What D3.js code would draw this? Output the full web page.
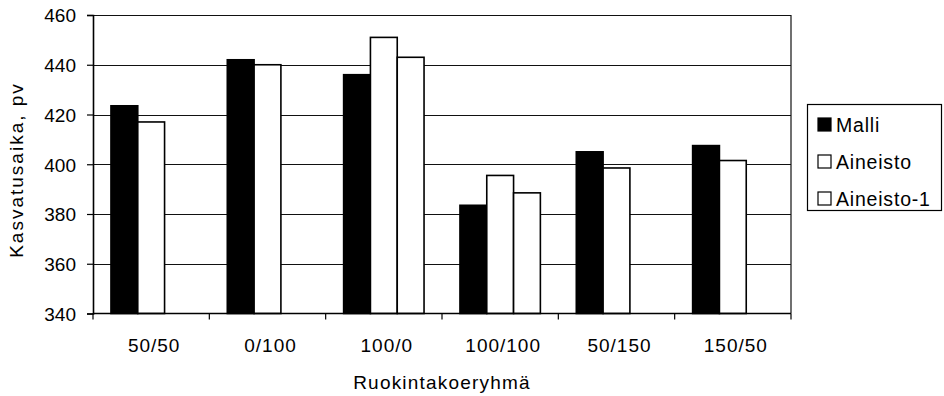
<!DOCTYPE html>
<html>
<head>
<meta charset="utf-8">
<script src="https://cdn.jsdelivr.net/npm/d3@7"></script>
<style>
  body { margin: 0; background: #fff; }
  svg { display: block; }
  text { font-family: "Liberation Sans", Arial, sans-serif; fill: #000; }
</style>
</head>
<body>
<div id="chart"></div>
<script>

// data
var categories = ['50/50', '0/100', '100/0', '100/100', '50/150', '150/50'];
var seriesNames = ['Malli', 'Aineisto', 'Aineisto-1'];
var malli = [423.5, 442, 436, 383.5, 405, 407.5];
var aineisto = [417, 440, 451, 395.5, 398.5, 401.5];
var aineisto1 = [null, null, 443, 388.5, null, null];
var yTicks = [340, 360, 380, 400, 420, 440, 460];

var seriesValues = [malli, aineisto, aineisto1];
var seriesFill = ['#000', '#fff', '#fff'];

var width = 944;
var height = 396;
var plotLeft = 93;
var plotRight = 791;
var plotTop = 15;
var plotBottom = 313.5;

var svg = d3.select('#chart')
		.append('svg')
		.attr('width', width)
		.attr('height', height);

var x = d3.scaleBand()
		.domain(categories)
		.range([plotLeft, plotRight])
		.padding(0);

var xs = d3.scaleBand()
		.domain(seriesNames)
		.range([0, x.bandwidth()])
		.paddingInner(0)
		.paddingOuter(0.67);

var y = d3.scaleLinear()
		.domain([340, 460])
		.range([plotBottom, plotTop]);

// grid lines
svg.append('g')
	.selectAll('line')
	.data(yTicks.slice(1))
	.enter()
	.append('line')
	.attr('x1', plotLeft)
	.attr('x2', plotRight)
	.attr('y1', function (d) { return Math.round(y(d)) + 0.5; })
	.attr('y2', function (d) { return Math.round(y(d)) + 0.5; })
	.attr('stroke', '#111')
	.attr('stroke-width', 1.2);

// right border
svg.append('line')
	.attr('x1', plotRight)
	.attr('x2', plotRight)
	.attr('y1', y(460))
	.attr('y2', y(340))
	.attr('stroke', '#111')
	.attr('stroke-width', 1.2);

// bars
var rows = [];
categories.forEach(function (c, i) {
	seriesNames.forEach(function (s, j) {
		if (seriesValues[j][i] != null) {
			rows.push({ cat: c, name: s, value: seriesValues[j][i], fill: seriesFill[j] });
		}
	});
});

svg.append('g')
	.selectAll('rect')
	.data(rows)
	.enter()
	.append('rect')
	.attr('x', function (d) { return x(d.cat) + xs(d.name); })
	.attr('y', function (d) { return y(d.value); })
	.attr('width', xs.bandwidth())
	.attr('height', function (d) { return y(340) - y(d.value); })
	.attr('fill', function (d) { return d.fill; })
	.attr('stroke', '#000')
	.attr('stroke-width', 1.6);

// y axis
var yAxis = svg.append('g')
		.attr('transform', 'translate(' + plotLeft + ',0)')
		.call(d3.axisLeft(y).tickValues(yTicks).tickSize(6).tickPadding(11).tickFormat(d3.format('d')));

yAxis.select('.domain').attr('stroke', '#000').attr('stroke-width', 1.6);
yAxis.selectAll('.tick line').attr('stroke', '#000').attr('stroke-width', 1.2);
yAxis.selectAll('.tick text')
	.attr('font-size', '19px')
	.attr('font-family', '"Liberation Sans", Arial, sans-serif')
	.attr('dy', '0.36em');

// x axis line and ticks at group borders
svg.append('line')
	.attr('x1', plotLeft)
	.attr('x2', plotRight)
	.attr('y1', plotBottom)
	.attr('y2', plotBottom)
	.attr('stroke', '#000')
	.attr('stroke-width', 1.6);

var borders = categories.map(function (c) { return x(c); }).concat([plotRight]);

svg.append('g')
	.selectAll('line')
	.data(borders)
	.enter()
	.append('line')
	.attr('x1', function (d) { return d; })
	.attr('x2', function (d) { return d; })
	.attr('y1', plotBottom)
	.attr('y2', plotBottom + 6)
	.attr('stroke', '#000')
	.attr('stroke-width', 1.2);

svg.append('g')
	.selectAll('text')
	.data(categories)
	.enter()
	.append('text')
	.attr('x', function (d) { return x(d) + x.bandwidth() / 2 + 3; })
	.attr('y', 352)
	.attr('text-anchor', 'middle')
	.attr('font-size', '19px')
	.attr('letter-spacing', '1px')
	.text(function (d) { return d; });

// axis titles
svg.append('text')
	.attr('x', (plotLeft + plotRight) / 2)
	.attr('y', 389)
	.attr('text-anchor', 'middle')
	.attr('font-size', '19px')
	.attr('letter-spacing', '1.2px')
	.text('Ruokintakoeryhmä');

svg.append('text')
	.attr('transform', 'translate(23,170) rotate(-90)')
	.attr('text-anchor', 'middle')
	.attr('font-size', '19px')
	.attr('letter-spacing', '2px')
	.text('Kasvatusaika, pv');

// legend
var legend = svg.append('g');

legend.append('rect')
	.attr('x', 807.5)
	.attr('y', 104.5)
	.attr('width', 134)
	.attr('height', 106)
	.attr('fill', '#fff')
	.attr('stroke', '#000')
	.attr('stroke-width', 1.2);

var legendItem = legend.selectAll('g.item')
		.data(seriesNames)
		.enter()
		.append('g')
		.attr('class', 'item')
		.attr('transform', function (d, i) { return 'translate(818,' + (118 + i * 37) + ')'; });

legendItem.append('rect')
	.attr('x', 0)
	.attr('y', 0)
	.attr('width', 13)
	.attr('height', 13)
	.attr('fill', function (d, i) { return seriesFill[i]; })
	.attr('stroke', '#000')
	.attr('stroke-width', 1.2);

legendItem.append('text')
	.attr('x', 18)
	.attr('y', 13.5)
	.attr('font-size', '19.5px')
	.attr('letter-spacing', '0.8px')
	.text(function (d) { return d; });

</script>
</body>
</html>
